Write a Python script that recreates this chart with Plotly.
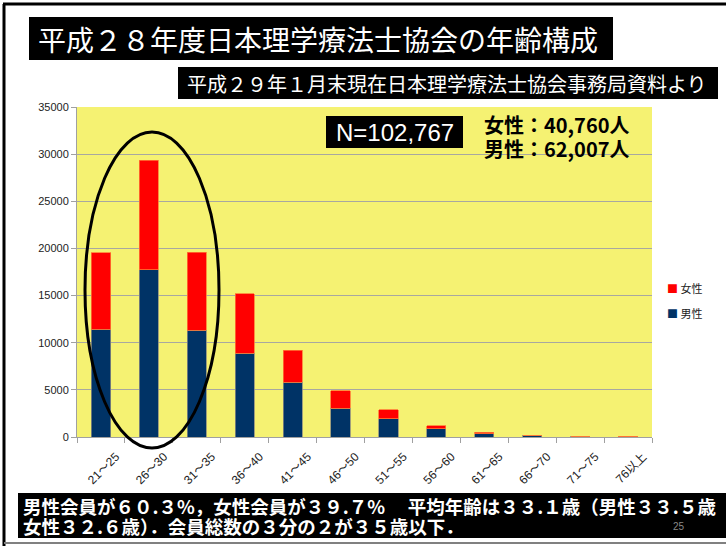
import plotly.graph_objects as go

categories = ["21～25", "26～30", "31～35", "36～40", "41～45", "46～50",
              "51～55", "56～60", "61～65", "66～70", "71～75", "76以上"]
male = [11440, 17720, 11330, 8900, 5830, 3050, 1910, 850, 350, 180, 60, 50]
female = [8120, 11620, 8270, 6320, 3390, 1840, 990, 320, 180, 30, 40, 40]
y_ticks = [0, 5000, 10000, 15000, 20000, 25000, 30000, 35000]
series_names = ["男性", "女性"]
series_colors = ["#003366", "#FF0000"]

W, H = 726, 546
L, R, T, B = 77, 652, 107, 437


def px(x):
    return (x - L) / (R - L)


def py(y):
    return (B - y) / (B - T)


JP = "Noto Sans CJK JP"

fig = go.Figure()
fig.add_trace(go.Bar(
    x=categories, y=male, name=series_names[0],
    marker=dict(color=series_colors[0], line=dict(color="#8a8a80", width=0.8)),
    width=0.4,
))
fig.add_trace(go.Bar(
    x=categories, y=female, name=series_names[1],
    marker=dict(color=series_colors[1], line=dict(color="#FF7733", width=0.8)),
    width=0.4,
))

shapes = []
annotations = []

# slide border
shapes.append(dict(type="line", xref="paper", yref="paper", x0=px(4), x1=px(4), y0=py(4), y1=py(546),
                   line=dict(color="black", width=3)))
shapes.append(dict(type="line", xref="paper", yref="paper", x0=px(3), x1=px(726), y0=py(4), y1=py(4),
                   line=dict(color="black", width=3)))
shapes.append(dict(type="line", xref="paper", yref="paper", x0=px(4), x1=px(726), y0=py(543), y1=py(543),
                   line=dict(color="#808080", width=2)))

# title box
shapes.append(dict(type="rect", xref="paper", yref="paper", x0=px(29), x1=px(613), y0=py(60), y1=py(17),
                   fillcolor="black", line=dict(width=0)))
annotations.append(dict(xref="paper", yref="paper", x=px(36), y=py(39), xanchor="left", yanchor="middle",
                        text="平成２８年度日本理学療法士協会の年齢構成", showarrow=False,
                        font=dict(family=JP, size=28, color="white")))
# subtitle box
shapes.append(dict(type="rect", xref="paper", yref="paper", x0=px(178), x1=px(718), y0=py(99), y1=py(67),
                   fillcolor="black", line=dict(width=0)))
annotations.append(dict(xref="paper", yref="paper", x=px(185), y=py(83), xanchor="left", yanchor="middle",
                        text="平成２９年１月末現在日本理学療法士協会事務局資料より", showarrow=False,
                        font=dict(family=JP, size=20, color="white")))
# N box
shapes.append(dict(type="rect", xref="paper", yref="paper", x0=px(326), x1=px(463), y0=py(148), y1=py(116),
                   fillcolor="black", line=dict(width=0)))
annotations.append(dict(xref="paper", yref="paper", x=px(394.5), y=py(132), xanchor="center", yanchor="middle",
                        text="N=102,767", showarrow=False,
                        font=dict(family="Liberation Sans", size=24, color="white")))
# female/male counts
annotations.append(dict(xref="paper", yref="paper", x=px(482), y=py(124), xanchor="left", yanchor="middle",
                        text="<b>女性：40,760人</b>", showarrow=False,
                        font=dict(family=JP, size=20, color="black")))
annotations.append(dict(xref="paper", yref="paper", x=px(482), y=py(148), xanchor="left", yanchor="middle",
                        text="<b>男性：62,007人</b>", showarrow=False,
                        font=dict(family=JP, size=20, color="black")))
# bottom box
shapes.append(dict(type="rect", xref="paper", yref="paper", x0=px(18), x1=px(726), y0=py(538), y1=py(493),
                   fillcolor="black", line=dict(width=0)))
annotations.append(dict(xref="paper", yref="paper", x=px(21), y=py(506), xanchor="left", yanchor="middle",
                        text="<b>男性会員が６０.３%，女性会員が３９.７%　 平均年齢は３３.１歳（男性３３.５歳</b>",
                        showarrow=False, font=dict(family=JP, size=18.5, color="white")))
annotations.append(dict(xref="paper", yref="paper", x=px(21), y=py(526), xanchor="left", yanchor="middle",
                        text="<b>女性３２.６歳）．会員総数の３分の２が３５歳以下．</b>",
                        showarrow=False, font=dict(family=JP, size=18.5, color="white")))
annotations.append(dict(xref="paper", yref="paper", x=px(679), y=py(526), xanchor="center", yanchor="middle",
                        text="25", showarrow=False,
                        font=dict(family="Liberation Sans", size=10, color="#888888")))

# legend (drawn as text, female on top)
for i, (name, color) in enumerate(zip(series_names[::-1], series_colors[::-1])):
    annotations.append(dict(xref="paper", yref="paper", x=px(665), y=py(288 + 25 * i),
                            xanchor="left", yanchor="middle", showarrow=False,
                            text=f"<span style='color:{color}'>■</span> {name}",
                            font=dict(family=JP, size=11, color="#222222")))

# ellipse highlight around the three youngest groups
shapes.append(dict(type="circle", xref="paper", yref="paper", x0=px(85), x1=px(219), y0=py(448), y1=py(132),
                   line=dict(color="black", width=3), fillcolor="rgba(0,0,0,0)", layer="above"))

fig.update_layout(
    width=W, height=H,
    margin=dict(l=L, r=W - R, t=T, b=H - B, pad=0, autoexpand=False),
    barmode="stack",
    paper_bgcolor="white",
    plot_bgcolor="#F5F272",
    font=dict(family="Liberation Sans", size=11, color="#222222"),
    showlegend=False,
    shapes=shapes,
    annotations=annotations,
    xaxis=dict(
        type="category", tickangle=-45, showgrid=False,
        showline=True, linecolor="#A0A0A0", linewidth=1,
        ticks="outside", tickson="boundaries", ticklen=5, tickcolor="#A0A0A0",
        tickfont=dict(family="Liberation Sans, Noto Sans CJK JP", size=12, color="#222222"),
        ticklabelshift=15, ticklabelstandoff=7,
        range=[-0.5, len(categories) - 0.5],
    ),
    yaxis=dict(
        range=[0, 35000], tickvals=y_ticks, ticktext=[str(v) for v in y_ticks],
        showgrid=True, gridcolor="#A8A8A0", gridwidth=1,
        showline=True, linecolor="#A0A0A0", linewidth=1,
        ticks="outside", ticklen=5, tickcolor="#A0A0A0",
        tickfont=dict(family="Liberation Sans", size=11, color="#222222"),
        zeroline=False,
    ),
    bargap=0.6,
)

fig.write_html("out.html", config={"displayModeBar": False},
               post_script="document.body.style.margin='0';document.body.style.overflow='hidden';")
